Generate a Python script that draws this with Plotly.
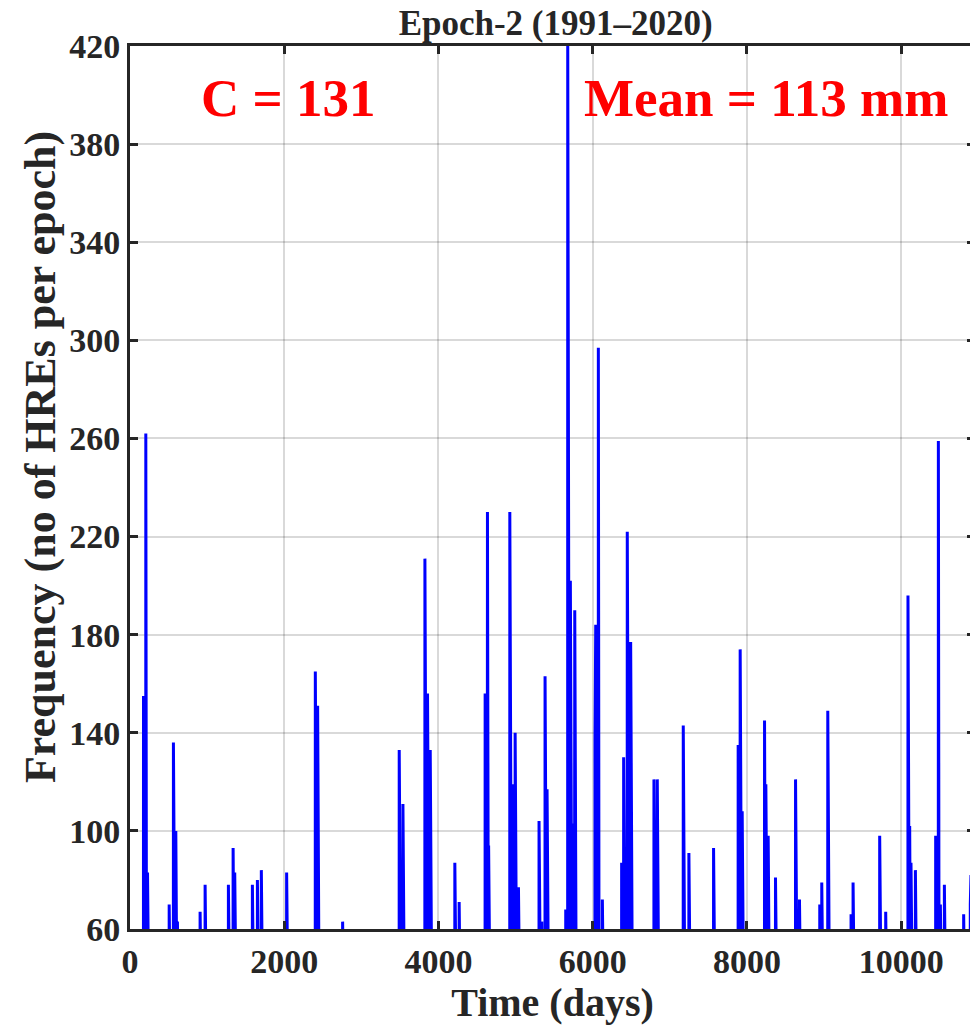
"""
Epoch-2 (1991–2020) HRE frequency time series
"""

import numpy as np
import plotly.graph_objects as go

# event days (day index within the epoch) and frequency on that day
event_day = [
    175, 205, 227, 508, 563, 594, 615, 909, 974, 1276, 1337, 1358, 1587, 1652,
    1703, 2031, 2403, 2433, 2757, 3491, 3539, 3824, 3858, 3893, 4212, 4268,
    4605, 4635, 4650, 4925, 4959, 4994, 5037, 5304, 5339, 5382, 5408, 5650,
    5676, 5710, 5736, 5767, 6030, 6039, 6073, 6125, 6375, 6401, 6448, 6492,
    6794, 6837, 7174, 7247, 7567, 7886, 7912, 7938, 8228, 8245, 8275, 8370,
    8630, 8681, 8944, 8970, 9048, 9350, 9376, 9721, 9799, 10088, 10110, 10127,
    10184, 10447, 10482, 10508, 10560, 10810, 10896, 10905,
]
event_freq = [
    155, 262, 83, 70, 136, 100, 63, 67, 78, 78, 93, 83, 78, 80,
    84, 83, 165, 151, 63, 133, 111, 211, 156, 133, 87, 71,
    156, 230, 94, 230, 119, 140, 77, 104, 63, 163, 117, 68,
    425, 202, 103, 190, 138, 184, 297, 72, 87, 130, 222, 177,
    121, 121, 143, 91, 93, 135, 174, 108, 145, 119, 98, 81,
    121, 72, 70, 79, 149, 66, 79, 98, 67, 196, 102, 87,
    84, 98, 259, 70, 78, 66, 70, 82,
]

n_days = 10957
x_ticks = [0, 2000, 4000, 6000, 8000, 10000]
y_ticks = [60, 100, 140, 180, 220, 260, 300, 340, 380, 420]

# daily series, zero on days without events
days = np.arange(1, n_days + 1)
freq = np.zeros(n_days)
freq[np.array(event_day) - 1] = event_freq

FONT = "Liberation Serif"
AXIS_COLOR = "#262626"

fig = go.Figure()

fig.add_trace(go.Scatter(
    x=days,
    y=freq,
    mode='lines',
    line=dict(color='#0000ff', width=3),
    showlegend=False,
    hoverinfo='skip'
))

fig.add_annotation(
    x=900, y=399, xref='x', yref='y',
    text="<b>C = 131</b>", showarrow=False,
    xanchor='left', yanchor='middle',
    font=dict(family=FONT, size=53, color='#ff0000')
)
fig.add_annotation(
    x=5861, y=399, xref='x', yref='y',
    text="<b>Mean = 113 mm</b>", showarrow=False,
    xanchor='left', yanchor='middle',
    font=dict(family=FONT, size=53, color='#ff0000')
)

# y-axis title sits a bit above the plot centre, as in the original
fig.add_annotation(
    x=-0.1065, y=0.5345, xref='paper', yref='paper',
    text="<b>Frequency (no of HREs per epoch)</b>", showarrow=False,
    textangle=-90, xanchor='center', yanchor='middle',
    font=dict(family=FONT, size=44, color=AXIS_COLOR)
)

axis_common = dict(
    showline=True,
    linewidth=3,
    linecolor=AXIS_COLOR,
    mirror='ticks',
    ticks='inside',
    ticklen=8,
    tickwidth=3,
    tickcolor=AXIS_COLOR,
    showgrid=True,
    gridcolor='rgba(0,0,0,0.15)',
    gridwidth=2,
    zeroline=False,
    automargin=False,
    tickfont=dict(family=FONT, size=34, color=AXIS_COLOR),
)

# the page body adds an 8 px offset, margins compensate for it
fig.update_layout(
    width=978,
    height=1027,
    margin=dict(l=122, r=11, t=38, b=106),
    plot_bgcolor='white',
    paper_bgcolor='white',
    font=dict(family=FONT, color=AXIS_COLOR),
    title=dict(
        text="<b>Epoch-2 (1991–2020)</b>",
        x=0.560, xanchor='center',
        y=0.9854, yanchor='middle',
        font=dict(family=FONT, size=35, color=AXIS_COLOR)
    ),
    xaxis=dict(
        range=[0, n_days],
        tickvals=x_ticks,
        ticktext=[f"<b>{v}</b>" for v in x_ticks],
        title=dict(text="<b>Time (days)</b>", standoff=6,
                   font=dict(family=FONT, size=40, color=AXIS_COLOR)),
        **axis_common
    ),
    yaxis=dict(
        range=[60, 420],
        tickvals=y_ticks,
        ticktext=[f"<b>{v}</b>" for v in y_ticks],
        **axis_common
    ),
)

fig.write_html("out.html")
